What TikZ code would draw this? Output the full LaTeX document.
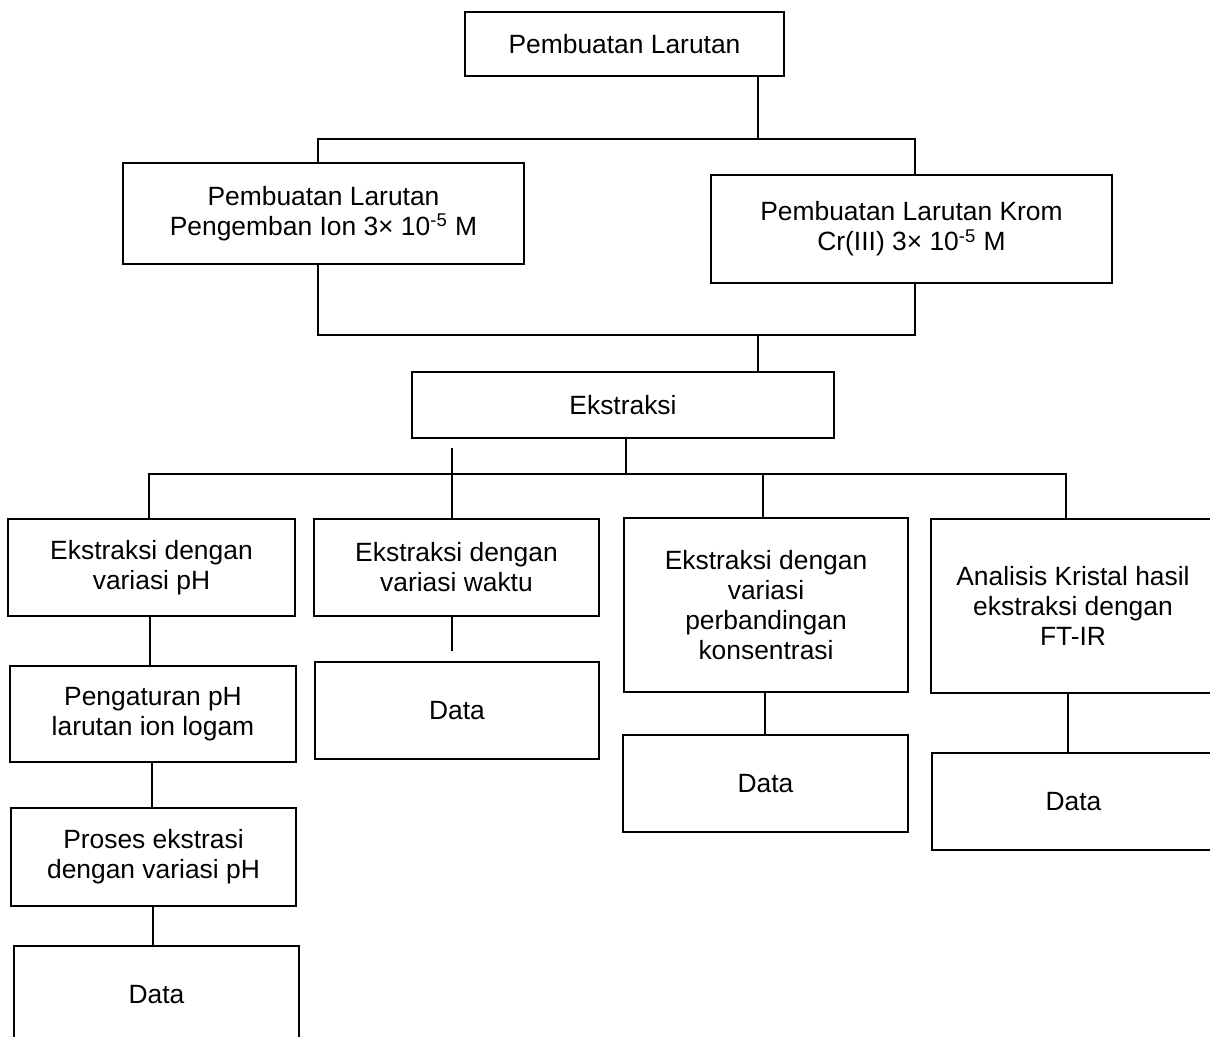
\documentclass[tikz,border=0pt]{standalone}
\usepackage{fontspec}
\setmainfont{Liberation Sans}
\usepackage{tikz}

\begin{document}
\begin{tikzpicture}[x=0.5pt,y=-0.5pt,line width=0.6pt,
    font=\fontsize{13.2}{15}\selectfont,
    kotak/.style={draw,align=center,inner sep=2pt}]
    \clip (0,0) rectangle (1210,1037);

    % Pembuatan larutan: satu kotak atas, dua kotak di bawahnya
    \node[kotak,minimum width=159.5pt,minimum height=32pt] (atas) at (624.5,44)
        {Pembuatan Larutan};
    \node[kotak,minimum width=200.5pt,minimum height=50.5pt] (pengemban) at (323.5,213.5)
        {Pembuatan Larutan\\Pengemban Ion 3× 10\textsuperscript{-5} M};
    \node[kotak,minimum width=200.5pt,minimum height=54pt] (krom) at (911.5,229)
        {Pembuatan Larutan Krom\\Cr(III) 3× 10\textsuperscript{-5} M};

    \coordinate (t1) at (758,139);
    \coordinate (k1) at (318,139);
    \coordinate (k2) at (915,139);
    \draw (atas.south -| t1) -- (t1);
    \draw (pengemban.north -| k1) -- (k1) -- (k2) -- (krom.north -| k2);

    \node[kotak,minimum width=211pt,minimum height=33pt] (ekstraksi) at (623,405)
        {Ekstraksi};

    \coordinate (t2) at (758,335);
    \coordinate (k3) at (318,335);
    \coordinate (k4) at (915,335);
    \draw (pengemban.south -| k3) -- (k3) -- (k4) -- (krom.south -| k4);
    \draw (t2) -- (ekstraksi.north -| t2);

    % Empat cabang ekstraksi
    \node[kotak,minimum width=143.5pt,minimum height=48.5pt] (varph) at (151.5,567.5)
        {Ekstraksi dengan\\variasi pH};
    \node[kotak,minimum width=142.5pt,minimum height=48.5pt] (waktu) at (456.5,567.5)
        {Ekstraksi dengan\\variasi waktu};
    \node[kotak,minimum width=142pt,minimum height=87pt] (konsentrasi) at (766,605)
        {Ekstraksi dengan\\variasi\\perbandingan\\konsentrasi};
    \node[kotak,minimum width=142pt,minimum height=87pt] (ftir) at (1073,606)
        {Analisis Kristal hasil\\ekstraksi dengan\\FT-IR};

    \coordinate (t3) at (626,474);
    \coordinate (c1) at (149,474);
    \coordinate (c2) at (452,448);
    \coordinate (c3) at (763,474);
    \coordinate (c4) at (1066,474);
    \draw (ekstraksi.south -| t3) -- (t3);
    \draw (varph.north -| c1) -- (c1) -- (c4) -- (ftir.north -| c4);
    \draw (c2) -- (waktu.north -| c2);
    \draw (c3) -- (konsentrasi.north -| c3);

    % Data dari tiap cabang
    \node[kotak,minimum width=143pt,minimum height=48pt] (aturph) at (153,714)
        {Pengaturan pH\\larutan ion logam};
    \node[kotak,minimum width=142.5pt,minimum height=49pt] (proses) at (153.5,857)
        {Proses ekstrasi\\dengan variasi pH};
    \node[kotak,minimum width=142.5pt,minimum height=49pt] (dataa) at (156.5,995)
        {Data};
    \node[kotak,minimum width=142pt,minimum height=48.5pt] (datab) at (457,710.5)
        {Data};
    \node[kotak,minimum width=142.5pt,minimum height=48.5pt] (datac) at (765.5,783.5)
        {Data};
    \node[kotak,minimum width=141.5pt,minimum height=48.5pt] (datad) at (1073.5,801.5)
        {Data};

    \coordinate (b1) at (452,651);
    \draw (varph.south -| 150,0) -- (aturph.north -| 150,0);
    \draw (aturph.south -| 152,0) -- (proses.north -| 152,0);
    \draw (proses.south -| 153,0) -- (dataa.north -| 153,0);
    \draw (waktu.south -| b1) -- (b1);
    \draw (konsentrasi.south -| 765,0) -- (datac.north -| 765,0);
    \draw (ftir.south -| 1068,0) -- (datad.north -| 1068,0);
\end{tikzpicture}
\end{document}
